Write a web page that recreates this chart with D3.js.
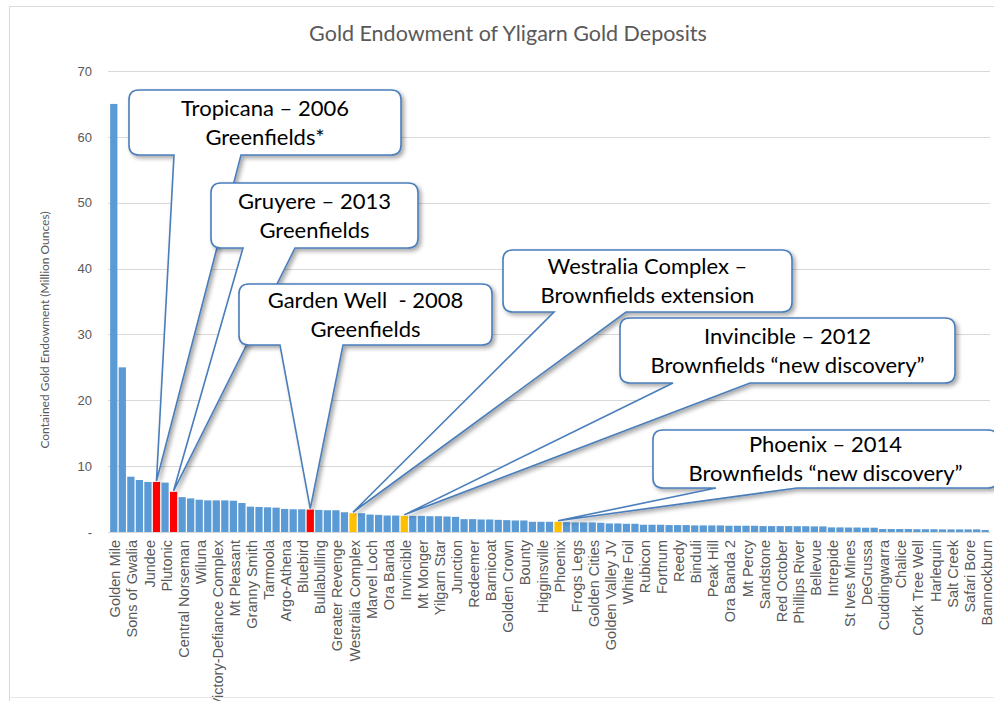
<!DOCTYPE html>
<html lang="en">
<head>
  <meta charset="utf-8">
  <title>Gold Endowment of Yligarn Gold Deposits</title>
  <script src="https://d3js.org/d3.v7.min.js"></script>
  <style>
    body { margin: 0; background: #fff; }
    svg { display: block; font-family: Lato, "Open Sans", sans-serif; }
    .axis text { fill: #595959; }
    .axis path, .axis line { display: none; }
    .grid line { stroke: #d9d9d9; stroke-width: 1; }
    .callout { fill: #fff; stroke: #4a7ebb; stroke-width: 1.6; }
    .callout-text { fill: #000; font-size: 22px; text-anchor: middle; white-space: pre; }
  </style>
</head>
<body>
  <svg width="994" height="701"></svg>
  <script>
    // deposit names, one label every second bar (as in the original chart)
    var labels = ["Golden Mile", "Sons of Gwalia", "Jundee", "Plutonic", "Central Norseman", "Wiluna",
      "Victory-Defiance Complex", "Mt Pleasant", "Granny Smith", "Tarmoola", "Argo-Athena", "Bluebird",
      "Bullabulling", "Greater Revenge", "Westralia Complex", "Marvel Loch", "Ora Banda", "Invincible",
      "Mt Monger", "Yilgarn Star", "Junction", "Redeemer", "Barnicoat", "Golden Crown", "Bounty",
      "Higginsville", "Phoenix", "Frogs Legs", "Golden Cities", "Golden Valley JV", "White Foil",
      "Rubicon", "Fortnum", "Reedy", "Binduli", "Peak Hill", "Ora Banda 2", "Mt Percy", "Sandstone",
      "Red October", "Phillips River", "Bellevue", "Intrepide", "St Ives Mines", "DeGrussa",
      "Cuddingwarra", "Chalice", "Cork Tree Well", "Harlequin", "Salt Creek", "Safari Bore", "Bannockburn"];

    // contained gold, million ounces, one value per bar (103 deposits)
    var values = [65, 25, 8.4, 7.9, 7.6, 7.6, 7.5, 6.1, 5.3, 5.1,
      4.9, 4.8, 4.8, 4.8, 4.75, 4.4, 3.85, 3.8, 3.75, 3.7,
      3.5, 3.45, 3.45, 3.4, 3.35, 3.3, 3.3, 3.0, 2.85, 2.85,
      2.65, 2.6, 2.5, 2.5, 2.45, 2.45, 2.45, 2.4, 2.4, 2.35,
      2.3, 1.95, 1.95, 1.9, 1.9, 1.85, 1.8, 1.75, 1.75, 1.55,
      1.55, 1.55, 1.55, 1.5, 1.45, 1.45, 1.45, 1.4, 1.3, 1.3,
      1.25, 1.25, 1.1, 1.1, 1.1, 1.05, 1.05, 1.05, 1.0, 1.0,
      1.0, 1.0, 0.95, 0.95, 0.95, 0.95, 0.9, 0.9, 0.9, 0.9,
      0.88, 0.88, 0.85, 0.85, 0.7, 0.7, 0.68, 0.68, 0.65, 0.65,
      0.45, 0.45, 0.45, 0.45, 0.42, 0.42, 0.42, 0.4, 0.4, 0.4,
      0.4, 0.4, 0.3];

    // bar indexes (0-based) of highlighted discoveries
    var greenfieldBars = [5, 7, 23];
    var brownfieldBars = [28, 34, 52];

    var yTicks = [0, 10, 20, 30, 40, 50, 60, 70];

    var calloutLines = [
      ["Tropicana \u2013 2006", "Greenfields*"],
      ["Gruyere \u2013 2013", "Greenfields"],
      ["Garden Well  - 2008", "Greenfields"],
      ["Westralia Complex \u2013", "Brownfields extension"],
      ["Invincible \u2013 2012", "Brownfields \u201cnew discovery\u201d"],
      ["Phoenix \u2013 2014", "Brownfields \u201cnew discovery\u201d"]
    ];
    var calloutTargets = [5, 7, 23, 28, 34, 52];

    var svg = d3.select("svg");

    // layout
    var plot = {left: 109.5, right: 989.5, top: 71, bottom: 532};
    var boxes = [
      {x: 129, y: 90, w: 272, h: 65, b1: 174, b2: 241},
      {x: 211, y: 183, w: 207, h: 65, b1: 243, b2: 295},
      {x: 239, y: 284, w: 253, h: 61, b1: 280, b2: 343},
      {x: 503, y: 250, w: 289, h: 62, b1: 554, b2: 626},
      {x: 620, y: 318, w: 335, h: 65, b1: 673, b2: 750},
      {x: 653, y: 430, w: 345, h: 58, b1: 716, b2: 797}
    ];

    var defs = svg.append("defs");
    var f = defs.append("filter").attr("id", "shadow")
      .attr("x", "-10%").attr("y", "-10%").attr("width", "130%").attr("height", "130%");
    f.append("feDropShadow").attr("dx", 2.5).attr("dy", 2.5).attr("stdDeviation", 2)
      .attr("flood-color", "#000").attr("flood-opacity", 0.35);

    // frame
    svg.append("path")
      .attr("d", "M9.5,701 V6.5 H994")
      .attr("fill", "none").attr("stroke", "#d9d9d9");
    svg.append("line")
      .attr("x1", 9).attr("x2", 994).attr("y1", 697.5).attr("y2", 697.5)
      .attr("stroke", "#e8e8e8");

    svg.append("text")
      .attr("x", 508).attr("y", 41)
      .attr("text-anchor", "middle")
      .attr("fill", "#595959")
      .style("font-size", "21.5px")
      .text("Gold Endowment of Yligarn Gold Deposits");

    var x = d3.scaleBand()
      .domain(d3.range(values.length))
      .range([plot.left, plot.right])
      .paddingInner(0.15).paddingOuter(0.075);

    var y = d3.scaleLinear().domain([0, 70]).range([plot.bottom, plot.top]);

    // gridlines
    svg.append("g").attr("class", "grid")
      .selectAll("line").data(yTicks).enter().append("line")
      .attr("x1", 108).attr("x2", 990)
      .attr("y1", function(d) { return Math.round(y(d)) + 0.5; })
      .attr("y2", function(d) { return Math.round(y(d)) + 0.5; });

    // y axis
    svg.append("g")
      .attr("class", "axis")
      .attr("transform", "translate(92,0)")
      .call(d3.axisLeft(y).tickValues(yTicks).tickSize(0).tickPadding(0)
        .tickFormat(function(d) { return d === 0 ? "-" : d; }))
      .selectAll("text").style("font-size", "13px");

    svg.append("text")
      .attr("transform", "translate(49,330) rotate(-90)")
      .attr("text-anchor", "middle")
      .attr("fill", "#595959")
      .style("font-size", "12px")
      .text("Contained Gold Endowment (Million Ounces)");

    // bars
    svg.append("g").selectAll("rect")
      .data(values).enter().append("rect")
      .attr("x", function(d, i) { return x(i); })
      .attr("width", x.bandwidth())
      .attr("y", function(d) { return y(d); })
      .attr("height", function(d) { return y(0) - y(d); })
      .attr("fill", function(d, i) {
        if (greenfieldBars.indexOf(i) >= 0) return "#ff0000";
        if (brownfieldBars.indexOf(i) >= 0) return "#ffc000";
        return "#5b9bd5";
      });

    // x axis: only every second category carries a label
    var xAxis = svg.append("g")
      .attr("class", "axis")
      .attr("transform", "translate(0," + (plot.bottom + 8) + ")")
      .call(d3.axisBottom(x).tickSize(0).tickPadding(0)
        .tickFormat(function(i) { return i % 2 === 0 ? labels[i / 2] : ""; }));
    xAxis.selectAll("text")
      .style("font-size", "14.5px")
      .attr("text-anchor", "end")
      .attr("transform", "rotate(-90)")
      .attr("x", 0).attr("y", 1.5).attr("dy", "0.35em");

    // callouts
    function calloutPath(b, tx, ty) {
      var r = 10, x0 = b.x, y0 = b.y, x1 = b.x + b.w, y1 = b.y + b.h;
      return "M" + (x0 + r) + "," + y0 +
        "H" + (x1 - r) + "Q" + x1 + "," + y0 + " " + x1 + "," + (y0 + r) +
        "V" + (y1 - r) + "Q" + x1 + "," + y1 + " " + (x1 - r) + "," + y1 +
        "H" + b.b2 + "L" + tx + "," + ty + "L" + b.b1 + "," + y1 +
        "H" + (x0 + r) + "Q" + x0 + "," + y1 + " " + x0 + "," + (y1 - r) +
        "V" + (y0 + r) + "Q" + x0 + "," + y0 + " " + (x0 + r) + "," + y0 + "Z";
    }

    var callouts = svg.append("g").selectAll("g")
      .data(calloutLines).enter().append("g");

    callouts.append("path")
      .attr("class", "callout")
      .attr("filter", "url(#shadow)")
      .attr("d", function(d, i) {
        var t = calloutTargets[i];
        return calloutPath(boxes[i], x(t) + x.bandwidth() / 2, y(values[t]) - 1);
      });

    callouts.each(function(d, i) {
      var b = boxes[i];
      var t = d3.select(this).append("text").attr("class", "callout-text");
      t.append("tspan").attr("x", b.x + b.w / 2).attr("y", b.y + b.h / 2 - 7).text(d[0]);
      t.append("tspan").attr("x", b.x + b.w / 2).attr("y", b.y + b.h / 2 + 22).text(d[1]);
    });
  </script>
</body>
</html>
